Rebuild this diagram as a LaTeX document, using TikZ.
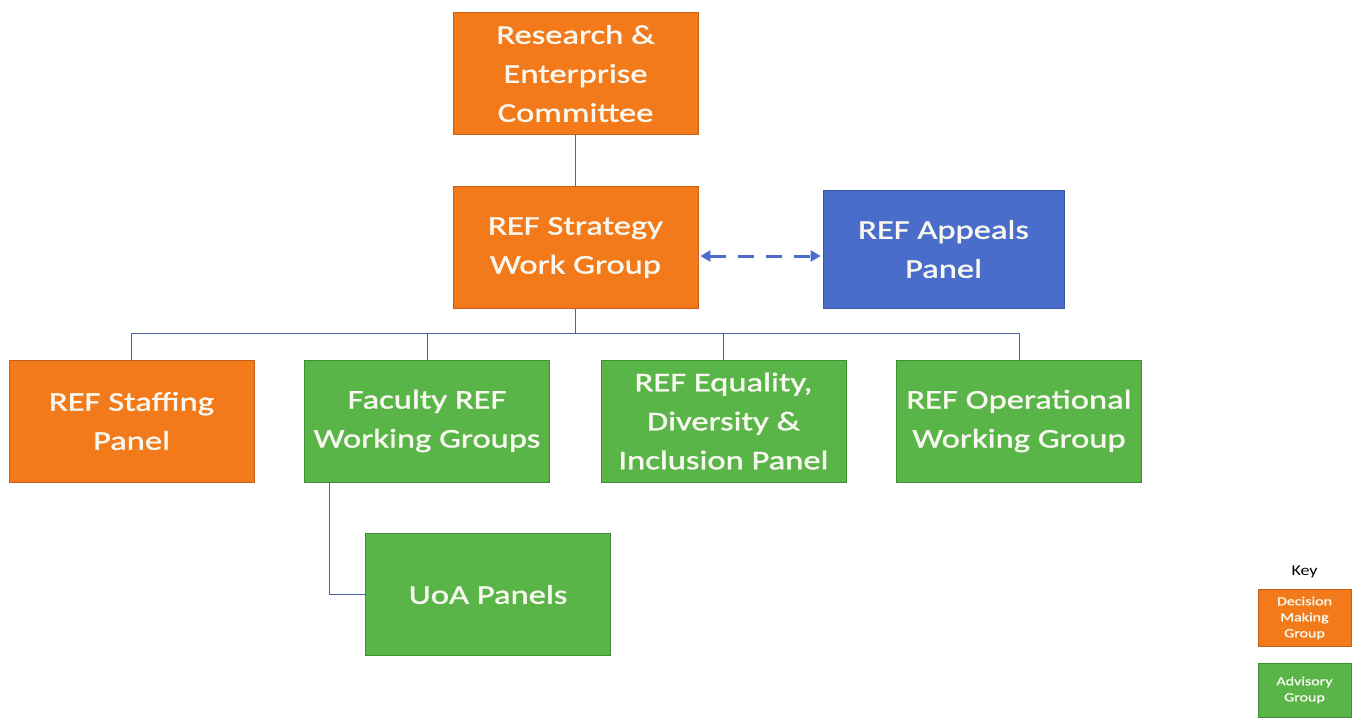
\documentclass[tikz,border=0pt]{standalone}
\usepackage{fontspec}
\setmainfont{Carlito}
\newfontfamily\boxfont{Carlito}[FakeStretch=1.28,FakeBold=1.3]
\newfontfamily\keyfont{Carlito}[FakeStretch=1.2]
\usetikzlibrary{arrows.meta}
\definecolor{orng}{HTML}{F27A1A}
\definecolor{orngd}{HTML}{C8601A}
\definecolor{grn}{HTML}{59B548}
\definecolor{grnd}{HTML}{3F8F35}
\definecolor{blu}{HTML}{4A6CCB}
\definecolor{blud}{HTML}{3B57A6}
\definecolor{lnc}{HTML}{4A64A0}
\definecolor{txt}{HTML}{F8F8F0}
\begin{document}
\begin{tikzpicture}[x=1pt,y=-1pt,
  box/.style={draw, line width=0.8pt, minimum width=245pt, minimum height=122pt, inner sep=0pt,
    align=center, text=txt, font=\boxfont\fontsize{27}{39}\selectfont},
  obox/.style={box, fill=orng, draw=orngd},
  gbox/.style={box, fill=grn, draw=grnd},
  bbox/.style={box, fill=blu, draw=blud},
  kbox/.style={draw, line width=0.6pt, minimum width=93pt, minimum height=57pt, inner sep=0pt,
    align=center, text=txt, font=\boxfont\fontsize{12.5}{16}\selectfont},
  conn/.style={draw=lnc, line width=0.9pt}]
\useasboundingbox (0,0) rectangle (1354,718);
\node[obox] (rec) at (575.5,73.5) {Research \&\\Enterprise\\Committee};
\node[obox] (strat) at (575.5,247.5) {REF Strategy\\Work Group};
\node[bbox, minimum width=241pt, minimum height=118pt] (appeal) at (943.5,249) {REF Appeals\\Panel};
\node[obox] (staff) at (131.5,421) {REF Staffing\\Panel};
\node[gbox] (fac) at (427,421) {Faculty REF\\Working Groups};
\node[gbox] (edi) at (723.5,421) {REF Equality,\\Diversity \&\\Inclusion Panel};
\node[gbox] (ops) at (1019,421) {REF Operational\\Working Group};
\node[gbox] (uoa) at (488,594.5) {UoA Panels};
\coordinate (bus) at (575.5,333);
\draw[conn] (rec) -- (strat);
\draw[conn] (strat.south) -- (bus);
\draw[conn] (staff.north) |- (bus);
\draw[conn] (ops.north) |- (bus);
\draw[conn] (fac.north) -- (fac.north |- bus);
\draw[conn] (edi.north) -- (edi.north |- bus);
\draw[conn] (fac.south west) ++(25,0) coordinate (fd) |- (uoa.west);
\draw[blu, line width=3pt, dash pattern=on 16pt off 12pt,
  {Triangle[length=10pt,width=11pt]}-{Triangle[length=10pt,width=11pt]}]
  ([xshift=2pt,yshift=-8.5pt]strat.east) -- ([xshift=-2pt,yshift=-7pt]appeal.west);
\node[font=\keyfont\fontsize{15}{18}\selectfont] (key) at (1304.5,572) {Key};
\node[kbox, fill=orng, draw=orngd] (k1) at (1304.5,618) {Decision\\Making\\Group};
\node[kbox, fill=grn, draw=grnd, minimum height=54pt] (k2) at (1304.5,690) {Advisory\\Group};
\end{tikzpicture}
\end{document}
